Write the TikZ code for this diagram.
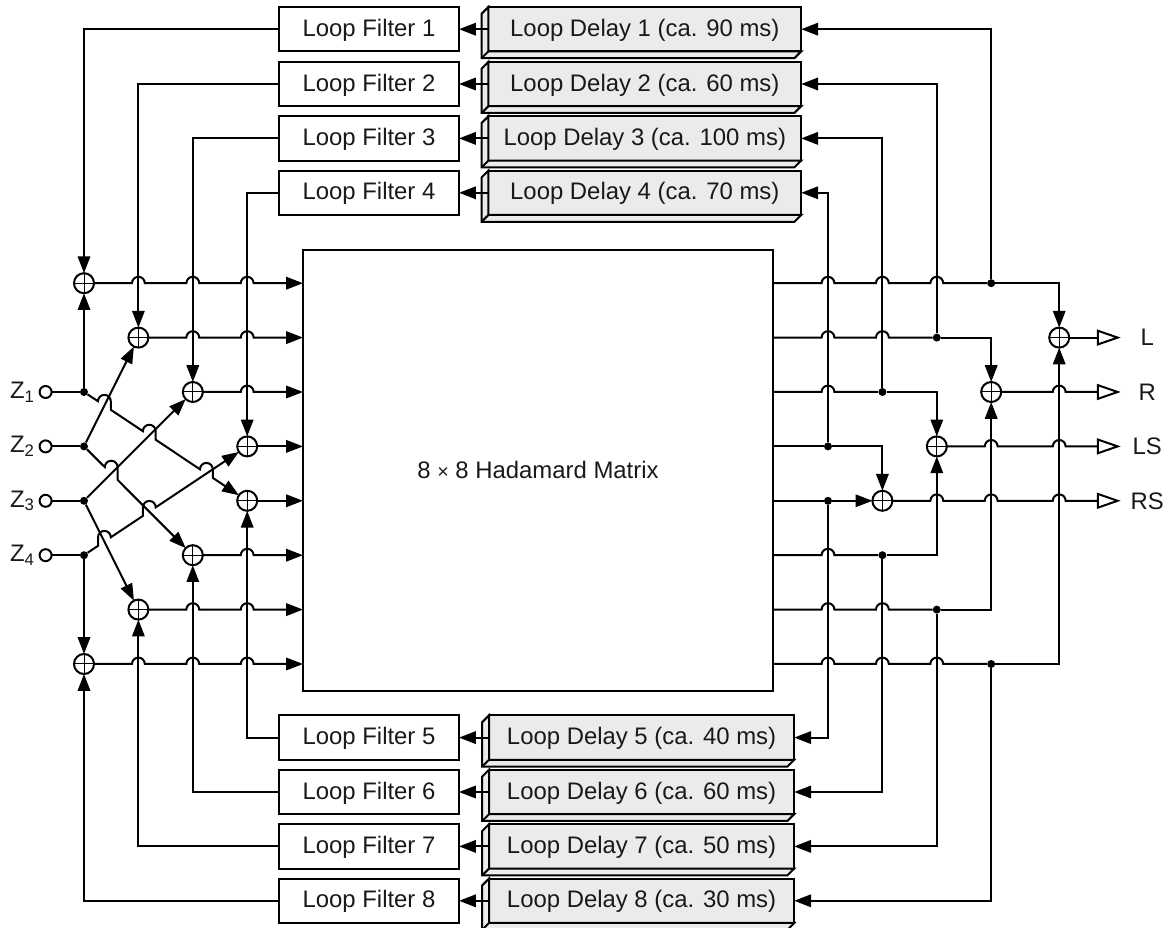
\documentclass[tikz,border=0pt]{standalone}
\usepackage{fontspec}
\setmainfont{Liberation Sans}
\usetikzlibrary{arrows.meta}

\newcommand{\hop}[1]{-- ([xshift=-.16cm]#1) arc[start angle=180,end angle=0,radius=.16cm]}
\newcommand{\hopdown}[2]{-- ([shift={(-.16,#2)}]#1) arc[start angle=180,end angle=0,radius=.16cm] -- ([shift={(.16,-#2)}]#1)}
\newcommand{\hopup}[2]{-- ([shift={(-.16,-#2)}]#1) -- ([shift={(-.16,#2)}]#1) arc[start angle=180,end angle=0,radius=.16cm]}
\newcommand{\bevel}[1]{\draw[bevelface] (#1.north west) -- ++(-.17,-.17) -- ([shift={(-.17,-.17)}]#1.south west) -- ([shift={(-.17,-.17)}]#1.south east) -- (#1.south east) -- (#1.south west) -- cycle; \draw[wire] (#1.south west) -- ++(-.17,-.17);}

\begin{document}
\begin{tikzpicture}[
  every node/.style={font=\fontsize{17}{20}\selectfont, text=black!90},
  wire/.style={line width=.5mm},
  arrow/.style={wire, -{Triangle[length=.42cm,width=.31cm]}},
  outarrow/.style={wire, -{Triangle[open,length=.6cm,width=.4cm]}},
  filt/.style={draw, wire, outer sep=0pt, minimum width=4.5cm, minimum height=1.11cm, text height=12pt, text depth=1.8pt},
  delaytop/.style={draw, wire, outer sep=0pt, fill=black!8, minimum width=7.82cm, minimum height=1.11cm, text height=12pt, text depth=1.8pt},
  delaybot/.style={delaytop, minimum width=7.63cm},
  bevelface/.style={draw, wire, fill=black!8},
  hadamard/.style={draw, wire, outer sep=0pt, minimum width=11.75cm, minimum height=11.03cm},
  sum/.style={draw, wire, circle, outer sep=0pt, inner sep=0pt, minimum size=.5cm,
    path picture={\draw[line width=.25mm] (path picture bounding box.north) -- (path picture bounding box.south)
      (path picture bounding box.west) -- (path picture bounding box.east);}},
  dot/.style={fill, circle, inner sep=0pt, minimum size=.2cm},
  term/.style={draw, wire, circle, outer sep=0pt, inner sep=0pt, minimum size=.3cm}
]
\useasboundingbox (0,0) rectangle (29.4,23.2);

\node[hadamard] (mat) at (13.45,11.445) {};
\node (mattext) at (13.45,11.45) {8 {\fontsize{14}{14}\selectfont ×} 8 Hadamard Matrix};

\node[filt] (f1) at (9.225,22.47) {Loop Filter 1};
\node[filt] (f2) at (9.225,21.10) {Loop Filter 2};
\node[filt] (f3) at (9.225,19.74) {Loop Filter 3};
\node[filt] (f4) at (9.225,18.38) {Loop Filter 4};
\node[filt] (f5) at (9.225,4.76) {Loop Filter 5};
\node[filt] (f6) at (9.225,3.40) {Loop Filter 6};
\node[filt] (f7) at (9.225,2.04) {Loop Filter 7};
\node[filt] (f8) at (9.225,0.68) {Loop Filter 8};

\node[delaytop] (d1) at (16.12,22.47) {Loop Delay 1 (ca. 90 ms)};
\node[delaytop] (d2) at (16.12,21.10) {Loop Delay 2 (ca. 60 ms)};
\node[delaytop] (d3) at (16.12,19.74) {Loop Delay 3 (ca. 100 ms)};
\node[delaytop] (d4) at (16.12,18.38) {Loop Delay 4 (ca. 70 ms)};
\node[delaybot] (d5) at (16.04,4.76) {Loop Delay 5 (ca. 40 ms)};
\node[delaybot] (d6) at (16.04,3.40) {Loop Delay 6 (ca. 60 ms)};
\node[delaybot] (d7) at (16.04,2.04) {Loop Delay 7 (ca. 50 ms)};
\node[delaybot] (d8) at (16.04,0.68) {Loop Delay 8 (ca. 30 ms)};
\bevel{d1}
\bevel{d2}
\bevel{d3}
\bevel{d4}
\bevel{d5}
\bevel{d6}
\bevel{d7}
\bevel{d8}

\node[sum] (s1) at (2.10,16.12) {};
\node[sum] (s2) at (3.46,14.76) {};
\node[sum] (s3) at (4.82,13.40) {};
\node[sum] (s4) at (6.18,12.04) {};
\node[sum] (s5) at (6.18,10.68) {};
\node[sum] (s6) at (4.82,9.32) {};
\node[sum] (s7) at (3.46,7.96) {};
\node[sum] (s8) at (2.10,6.60) {};

\node (zl1) at (.56,13.40) {Z\textsubscript{1}};
\node (zl2) at (.56,12.04) {Z\textsubscript{2}};
\node (zl3) at (.56,10.68) {Z\textsubscript{3}};
\node (zl4) at (.56,9.32) {Z\textsubscript{4}};
\node[term] (z1) at (1.14,13.40) {};
\node[term] (z2) at (1.14,12.04) {};
\node[term] (z3) at (1.14,10.68) {};
\node[term] (z4) at (1.14,9.32) {};
\node[dot] (dz1) at (2.10,13.40) {};
\node[dot] (dz2) at (2.10,12.04) {};
\node[dot] (dz3) at (2.10,10.68) {};
\node[dot] (dz4) at (2.10,9.32) {};

\coordinate (xa) at (intersection of dz1--s5 and dz2--s2);
\coordinate (xb) at (intersection of dz1--s5 and dz3--s3);
\coordinate (xc) at (intersection of dz1--s5 and dz4--s4);
\coordinate (xd) at (intersection of dz2--s6 and dz3--s3);
\coordinate (xe) at (intersection of dz2--s6 and dz4--s4);
\coordinate (xf) at (intersection of dz3--s7 and dz4--s4);

\node[dot] (tap1) at (24.78,16.12) {};
\node[dot] (tap2) at (23.42,14.76) {};
\node[dot] (tap3) at (22.06,13.40) {};
\node[dot] (tap4) at (20.70,12.04) {};
\node[dot] (tap5) at (20.70,10.68) {};
\node[dot] (tap6) at (22.06,9.32) {};
\node[dot] (tap7) at (23.42,7.96) {};
\node[dot] (tap8) at (24.78,6.60) {};

\node[sum] (sl) at (26.48,14.76) {};
\node[sum] (sr) at (24.78,13.40) {};
\node[sum] (sls) at (23.42,12.04) {};
\node[sum] (srs) at (22.06,10.68) {};
\coordinate (ol) at (28.02,14.76);
\coordinate (or) at (28.02,13.40);
\coordinate (ols) at (28.02,12.04);
\coordinate (ors) at (28.02,10.68);
\node (lbl) at (28.68,14.76) {L};
\node (lbr) at (28.68,13.40) {R};
\node (lbls) at (28.68,12.04) {LS};
\node (lbrs) at (28.68,10.68) {RS};

\draw[arrow] (d1) -- (f1);
\draw[arrow] (d2) -- (f2);
\draw[arrow] (d3) -- (f3);
\draw[arrow] (d4) -- (f4);
\draw[arrow] (d5) -- (f5);
\draw[arrow] (d6) -- (f6);
\draw[arrow] (d7) -- (f7);
\draw[arrow] (d8) -- (f8);

\draw[arrow] (f1) -| (s1);
\draw[arrow] (f2) -| (s2);
\draw[arrow] (f3) -| (s3);
\draw[arrow] (f4) -| (s4);
\draw[arrow] (f5) -| (s5);
\draw[arrow] (f6) -| (s6);
\draw[arrow] (f7) -| (s7);
\draw[arrow] (f8) -| (s8);

\draw[wire] (z1) -- (dz1);
\draw[wire] (z2) -- (dz2);
\draw[wire] (z3) -- (dz3);
\draw[wire] (z4) -- (dz4);
\draw[arrow] (dz1) -- (s1);
\draw[arrow] (dz4) -- (s8);
\draw[arrow] (dz2) -- (s2);
\draw[arrow] (dz3) -- (s3);
\draw[arrow] (dz3) -- (s7);
\draw[arrow] (dz1) \hopdown{xa}{.107} \hopdown{xb}{.107} \hopdown{xc}{.107} -- (s5);
\draw[arrow] (dz2) \hopdown{xd}{.16} -- (s6);
\draw[arrow] (dz4) \hopup{xf}{.107} \hopup{xe}{.107} -- (s4);

\draw[arrow] (s1) \hop{s1 -| s2} \hop{s1 -| s3} \hop{s1 -| s4} -- (s1 -| mat.west);
\draw[arrow] (s2) \hop{s2 -| s3} \hop{s2 -| s4} -- (s2 -| mat.west);
\draw[arrow] (s3) \hop{s3 -| s4} -- (s3 -| mat.west);
\draw[arrow] (s4) -- (s4 -| mat.west);
\draw[arrow] (s5) -- (s5 -| mat.west);
\draw[arrow] (s6) \hop{s6 -| s5} -- (s6 -| mat.west);
\draw[arrow] (s7) \hop{s7 -| s6} \hop{s7 -| s5} -- (s7 -| mat.west);
\draw[arrow] (s8) \hop{s8 -| s7} \hop{s8 -| s6} \hop{s8 -| s5} -- (s8 -| mat.west);

\draw[wire] (tap1 -| mat.east) \hop{tap1 -| tap4} \hop{tap1 -| tap3} \hop{tap1 -| tap2} -- (tap1);
\draw[wire] (tap2 -| mat.east) \hop{tap2 -| tap4} \hop{tap2 -| tap3} -- (tap2);
\draw[wire] (tap3 -| mat.east) \hop{tap3 -| tap4} -- (tap3);
\draw[wire] (tap4 -| mat.east) -- (tap4);
\draw[wire] (tap5 -| mat.east) -- (tap5);
\draw[wire] (tap6 -| mat.east) \hop{tap6 -| tap5} -- (tap6);
\draw[wire] (tap7 -| mat.east) \hop{tap7 -| tap5} \hop{tap7 -| tap6} -- (tap7);
\draw[wire] (tap8 -| mat.east) \hop{tap8 -| tap5} \hop{tap8 -| tap6} \hop{tap8 -| tap7} -- (tap8);

\draw[arrow] (tap1) |- (d1);
\draw[arrow] (tap2) |- (d2);
\draw[arrow] (tap3) |- (d3);
\draw[arrow] (tap4) |- (d4);
\draw[arrow] (tap5) |- (d5);
\draw[arrow] (tap6) |- (d6);
\draw[arrow] (tap7) |- (d7);
\draw[arrow] (tap8) |- (d8);

\draw[arrow] (tap1) -| (sl);
\draw[arrow] (tap8) -| (sl);
\draw[arrow] (tap2) -| (sr);
\draw[arrow] (tap7) -| (sr);
\draw[arrow] (tap3) -| (sls);
\draw[arrow] (tap6) -| (sls);
\draw[arrow] (tap4) -| (srs);
\draw[arrow] (tap5) -- (srs);

\draw[outarrow] (sl) -- (ol);
\draw[outarrow] (sr) \hop{sr -| sl} -- (or);
\draw[outarrow] (sls) \hop{sls -| sr} \hop{sls -| sl} -- (ols);
\draw[outarrow] (srs) \hop{srs -| sls} \hop{srs -| sr} \hop{srs -| sl} -- (ors);
\end{tikzpicture}
\end{document}
